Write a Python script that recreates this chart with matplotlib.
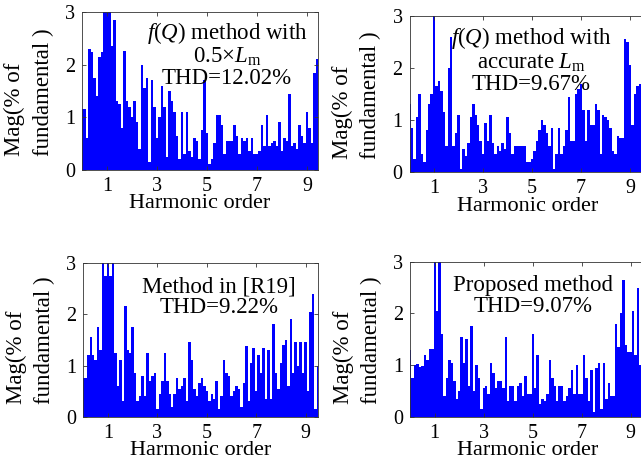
import numpy as np
import matplotlib
matplotlib.use("Agg")
import matplotlib.pyplot as plt

plt.rcParams['font.family'] = ['Liberation Serif', 'DejaVu Serif']
plt.rcParams['mathtext.fontset'] = 'custom'
plt.rcParams['mathtext.rm'] = 'Liberation Serif'
plt.rcParams['mathtext.it'] = 'Liberation Serif:italic'

# spectrum magnitudes (% of fundamental), one bin every 0.1 harmonic order
mag_half_lm = [1.15, 1.15, 0.6, 2.3, 2.25, 1.75, 1.4, 2.15, 2.25, 3.3,
               3.5, 3.2, 2.35, 2.85, 1.3, 1.25, 0.8, 2.27, 1.3, 1.2,
               1.0, 1.3, 0.9, 0.4, 2.0, 1.55, 1.75, 0.15, 1.7, 1.2,
               0.6, 1.0, 1.6, 1.2, 0.25, 1.5, 1.3, 1.1, 0.65, 0.2,
               1.1, 0.3, 1.1, 0.35, 0.25, 0.6, 0.55, 0.2, 0.75, 1.7,
               0.7, 0.1, 0.2, 0.5, 1.05, 1.05, 0.85, 0.3, 0.55, 0.55,
               0.55, 0.85, 0.65, 0.3, 0.6, 0.55, 0.6, 0.35, 0.6, 0.3,
               0.3, 0.35, 0.85, 0.45, 1.05, 0.45, 0.5, 0.55, 0.45, 0.9,
               0.35, 0.6, 0.55, 1.45, 0.45, 0.5, 0.4, 0.85, 0.65, 0.5,
               1.1, 0.8, 0.5, 1.85, 2.1, 2.1]

mag_accurate_lm = [1.3, 0.85, 0.25, 1.05, 1.5, 0.35, 0.2, 0.8, 1.3, 1.5,
                   3.2, 1.65, 1.75, 1.55, 1.15, 0.5, 2.0, 2.6, 0.5, 0.75,
                   1.1, 0.05, 0.45, 0.3, 0.55, 1.05, 1.3, 1.1, 0.9, 0.6,
                   0.35, 0.95, 0.6, 1.1, 0.55, 0.35, 0.5, 0.4, 0.55, 0.45,
                   1.05, 0.75, 0.35, 0.5, 0.5, 0.5, 0.5, 0.5, 0.2, 0.2,
                   0.25, 0.4, 0.6, 0.8, 1.0, 0.9, 0.75, 0.5, 0.85, 0.05,
                   0.35, 0.85, 0.35, 0.5, 0.8, 1.45, 0.6, 0.6, 1.5, 1.6,
                   1.7, 1.2, 0.6, 1.2, 0.9, 0.9, 1.3, 1.2, 0.35, 1.1,
                   1.05, 1.0, 0.85, 0.4, 0.35, 0.7, 0.65, 0.65, 2.55, 2.5,
                   2.05, 0.9, 1.5, 1.65, 1.7, 1.6]

mag_r19 = [0.75, 0.75, 1.2, 1.55, 1.2, 1.1, 1.75, 1.3, 3.3, 2.75,
           3.5, 2.75, 3.2, 1.25, 0.6, 1.1, 0.3, 2.15, 1.3, 1.25,
           1.75, 0.85, 0.3, 0.4, 0.8, 0.4, 1.25, 0.7, 0.8, 0.85,
           0.15, 0.45, 0.7, 1.25, 0.7, 0.45, 0.2, 0.45, 0.75, 0.55,
           0.6, 0.75, 0.3, 1.45, 1.1, 0.55, 0.4, 0.65, 0.75, 0.6,
           0.5, 0.3, 0.45, 0.35, 0.7, 0.15, 0.4, 1.1, 0.85, 0.8,
           0.4, 0.5, 0.6, 0.55, 0.2, 0.65, 1.38, 0.3, 1.05, 1.35,
           0.5, 1.2, 0.85, 1.35, 0.35, 1.3, 0.35, 1.8, 0.85, 0.55,
           1.05, 1.4, 1.5, 0.6, 1.9, 0.85, 1.45, 1.0, 1.45, 0.85,
           1.45, 0.5, 2.05, 2.4, 0.15, 1.0]

mag_proposed = [1.3, 0.75, 1.0, 1.02, 0.97, 0.98, 1.2, 1.1, 1.32, 1.32,
                3.4, 2.05, 3.3, 1.6, 0.4, 0.75, 1.1, 1.05, 0.7, 0.35,
                0.5, 1.55, 1.05, 1.5, 0.6, 1.75, 0.5, 1.0, 0.75, 0.15,
                0.55, 0.6, 0.45, 1.05, 0.85, 0.55, 0.7, 0.7, 0.55, 1.55,
                0.3, 0.6, 0.6, 0.3, 0.6, 0.65, 0.4, 0.8, 0.45, 0.45,
                1.6, 0.55, 1.2, 0.25, 0.35, 0.3, 0.45, 1.1, 0.75, 0.6,
                0.3, 0.6, 0.6, 0.3, 0.4, 0.55, 0.9, 0.45, 1.0, 0.45,
                0.45, 1.2, 0.75, 0.3, 0.9, 0.1, 0.95, 1.05, 0.15, 1.05,
                0.35, 0.65, 0.4, 0.4, 1.8, 1.35, 2.0, 2.65, 1.4, 1.25,
                1.25, 2.05, 1.2, 2.5, 1.0, 1.0]

panel_texts = [r'$f$($Q$) method with' + '\n' + r'0.5$\times$$L_{\rm m}$' + '\nTHD=12.02%',
               r'$f$($Q$) method with' + '\n' + r'accurate $L_{\rm m}$' + '\nTHD=9.67%',
               'Method in [R19]\nTHD=9.22%',
               'Proposed method\nTHD=9.07%']
panel_data = [mag_half_lm, mag_accurate_lm, mag_r19, mag_proposed]
x_ticks = [1, 3, 5, 7, 9]
y_ticks = [0, 1, 2, 3]

# axes boxes in figure fraction, xlim upper, text centre (axes fraction)
boxes = [[0.128, 0.639, 0.368, 0.335],
         [0.639, 0.634, 0.367, 0.332],
         [0.130, 0.113, 0.366, 0.328],
         [0.640, 0.113, 0.367, 0.330]]
xmax = [9.44, 9.6, 9.5, 9.6]
text_pos = [(0.614, 0.733), (0.517, 0.718), (0.577, 0.776), (0.521, 0.777)]

fig = plt.figure(figsize=(6.41, 4.70), dpi=100)

for i in range(4):
    ax = fig.add_axes(boxes[i])
    vals = panel_data[i]
    orders = np.arange(len(vals)) * 0.1
    ax.bar(orders, vals, width=0.1, color='#0000ff', linewidth=0)
    ax.set_xlim(0, xmax[i])
    ax.set_ylim(0, 3)
    ax.set_xticks(x_ticks)
    ax.set_yticks(y_ticks)
    ax.tick_params(direction='in', top=True, right=True, length=3,
                   width=0.6, labelsize=14.5, pad=5, color='#333333')
    for sp in ax.spines.values():
        sp.set_linewidth(0.6)
        sp.set_color('#333333')
    ax.set_xlabel('Harmonic order', fontsize=16, labelpad=-1)
    ax.text(-0.225, 0.495, 'Mag(% of\nfundamental )', transform=ax.transAxes,
            rotation=90, ha='center', va='center', fontsize=16.5,
            linespacing=1.45, multialignment='left')
    ax.text(text_pos[i][0], text_pos[i][1], panel_texts[i], transform=ax.transAxes,
            ha='center', va='center', fontsize=16.5, linespacing=1.0)

fig.savefig('out.png', dpi=100)
